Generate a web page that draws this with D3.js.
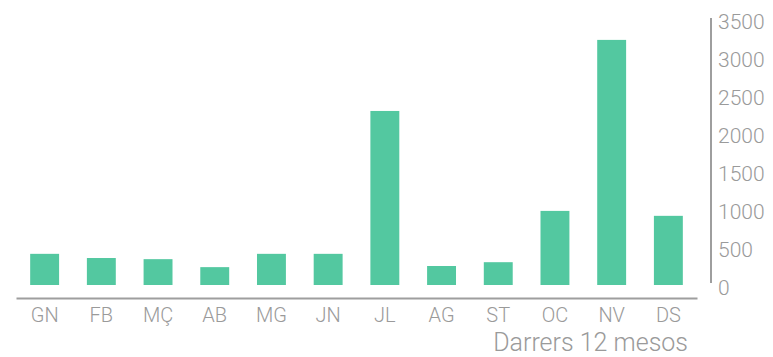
<!DOCTYPE html>
<html>
<head>
<meta charset="utf-8">
<script src="https://cdn.jsdelivr.net/npm/d3@7"></script>
<style>
  html, body { margin: 0; padding: 0; background: #fff; }
  svg { display: block; }
  .lbl { font-family: "Roboto", "Liberation Sans", sans-serif; font-weight: 300; fill: #9a9a9a; }
</style>
</head>
<body>
<svg id="chart" width="773" height="357"></svg>
<script>
// Monthly totals for the last twelve months
const months = ["GN", "FB", "MÇ", "AB", "MG", "JN", "JL", "AG", "ST", "OC", "NV", "DS"];
const values = [410, 355, 340, 235, 410, 410, 2290, 250, 300, 975, 3225, 910];
const yTicks = [0, 500, 1000, 1500, 2000, 2500, 3000, 3500];
const subtitle = "Darrers 12 mesos";

const svg = d3.select("#chart");
const barColor = "#53c8a0";
const axisColor = "#9e9e9e";

const x = d3.scaleBand()
  .domain(months)
  .range([16, 697])
  .paddingInner(0.49)
  .paddingOuter(0.25);

const y = d3.scaleLinear()
  .domain([0, 3500])
  .range([285, 19]);

// Bars
svg.append("g")
  .selectAll("rect")
  .data(months.map((m, i) => ({ m, v: values[i] })))
  .join("rect")
  .attr("x", d => x(d.m))
  .attr("y", d => y(d.v))
  .attr("width", x.bandwidth())
  .attr("height", d => y(0) - y(d.v))
  .attr("fill", barColor);

// Category axis below the bars
const xAxis = svg.append("g")
  .attr("transform", "translate(0,298)")
  .call(d3.axisBottom(x).tickSize(0).tickPadding(0).tickSizeOuter(0));
xAxis.select(".domain").attr("stroke", axisColor).attr("stroke-width", 2);
xAxis.selectAll("text")
  .attr("class", "lbl")
  .attr("y", 24)
  .attr("dy", null)
  .style("font-size", "20px");

// Value axis on the right
const yAxis = svg.append("g")
  .attr("transform", "translate(711,0)")
  .call(d3.axisRight(y).tickValues(yTicks).tickFormat(d3.format("d"))
    .tickSize(0).tickPadding(7).tickSizeOuter(0));
yAxis.select(".domain")
  .attr("stroke", axisColor)
  .attr("stroke-width", 2)
  .attr("d", `M0,${y(3500) - 1}V${y(0) - 2}`);
yAxis.selectAll("text")
  .attr("class", "lbl")
  .attr("dy", "0.46em")
  .style("font-size", "21px");

// Period caption
svg.append("text")
  .attr("class", "lbl")
  .attr("x", 688)
  .attr("y", 351)
  .attr("text-anchor", "end")
  .style("font-size", "25px")
  .text(subtitle);
</script>
</body>
</html>
